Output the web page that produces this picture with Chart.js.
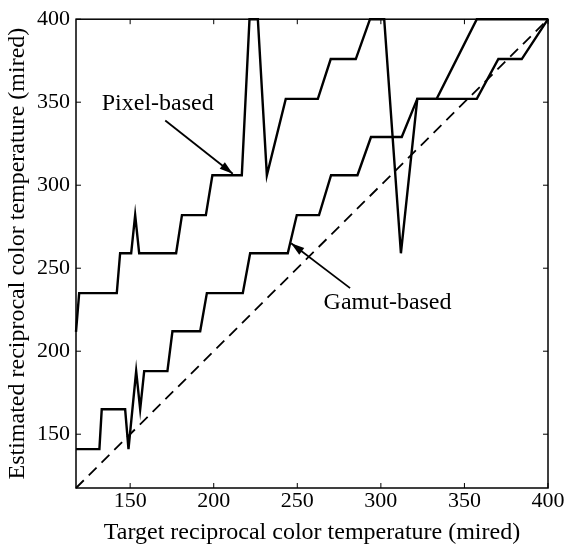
<!DOCTYPE html>
<html>
<head>
<meta charset="utf-8">
<script src="https://cdn.jsdelivr.net/npm/chart.js@4"></script>
<style>
  body { margin: 0; background: #fff; }
</style>
</head>
<body>
<canvas id="miredChart" width="571" height="547"></canvas>
<script>
// reciprocal colour temperature, mired
var pixelX = [117.6, 119.5, 142, 144, 150.6, 153, 155.4, 177.5, 181, 195.3, 199.2, 216.8, 221.4, 226.4, 231.8, 243.1, 262.3, 270, 285, 293.5, 302, 312, 321.8, 333.4, 357.4, 400];
var pixelY = [211.7, 235, 235, 259, 259, 282, 259, 259, 282, 282, 306, 306, 400, 400, 306, 352, 352, 376, 376, 400, 400, 259, 352, 352, 400, 400];

var gamutX = [117.6, 131.6, 133, 147, 149, 153.6, 156, 158.4, 172.3, 175.3, 191.9, 195.9, 217.4, 221.8, 244.3, 249.7, 263, 270.2, 286, 294.1, 312.5, 321.8, 357.4, 370.3, 384.3, 400];
var gamutY = [141, 141, 165, 165, 141, 188, 165, 188, 188, 212, 212, 235, 235, 259, 259, 282, 282, 306, 306, 329, 329, 352, 352, 376, 376, 400];

var idealX = [117.6, 400];
var idealY = [117.6, 400];

var tickValues = [150, 200, 250, 300, 350, 400];
var axisMin = 117.6;
var axisMax = 400;

var labels = [
  { text: 'Pixel-based', x: 166.5, y: 349, fromX: 171, fromY: 339, toX: 211.4, toY: 306.9 },
  { text: 'Gamut-based', x: 304, y: 229.5, fromX: 281.6, fromY: 238, toX: 246.3, toY: 265 }
];

function toPoints(xs, ys) {
  return xs.map(function (x, i) { return { x: x, y: ys[i] }; });
}

var serif = "'Liberation Serif', 'DejaVu Serif', serif";

var frame = {
  id: 'frame',
  afterDatasetsDraw: function (chart) {
    var ctx = chart.ctx;
    var a = chart.chartArea;
    var xs = chart.scales.x, ys = chart.scales.y;
    ctx.save();
    ctx.strokeStyle = '#000';
    ctx.lineWidth = 1.5;
    ctx.strokeRect(a.left, a.top, a.right - a.left, a.bottom - a.top);
    // inward ticks on all four sides
    ctx.lineWidth = 1;
    tickValues.forEach(function (v) {
      var px = xs.getPixelForValue(v), py = ys.getPixelForValue(v);
      ctx.beginPath();
      ctx.moveTo(px, a.bottom); ctx.lineTo(px, a.bottom - 5);
      ctx.moveTo(px, a.top); ctx.lineTo(px, a.top + 5);
      ctx.moveTo(a.left, py); ctx.lineTo(a.left + 5, py);
      ctx.moveTo(a.right, py); ctx.lineTo(a.right - 5, py);
      ctx.stroke();
    });

    // annotations with arrows
    ctx.fillStyle = '#000';
    ctx.font = '24px ' + serif;
    ctx.textAlign = 'center';
    ctx.textBaseline = 'middle';
    labels.forEach(function (l) {
      ctx.fillText(l.text, xs.getPixelForValue(l.x), ys.getPixelForValue(l.y));
      var x1 = xs.getPixelForValue(l.fromX), y1 = ys.getPixelForValue(l.fromY);
      var x2 = xs.getPixelForValue(l.toX), y2 = ys.getPixelForValue(l.toY);
      ctx.lineWidth = 1.8;
      ctx.beginPath();
      ctx.moveTo(x1, y1); ctx.lineTo(x2, y2);
      ctx.stroke();
      var ang = Math.atan2(y2 - y1, x2 - x1);
      ctx.beginPath();
      ctx.moveTo(x2, y2);
      ctx.lineTo(x2 - 14 * Math.cos(ang - 0.3), y2 - 14 * Math.sin(ang - 0.3));
      ctx.lineTo(x2 - 14 * Math.cos(ang + 0.3), y2 - 14 * Math.sin(ang + 0.3));
      ctx.closePath();
      ctx.fill();
    });
    ctx.restore();
  }
};

new Chart(document.getElementById('miredChart').getContext('2d'), {
  type: 'line',
  data: {
    datasets: [{
      label: 'Pixel-based',
      data: toPoints(pixelX, pixelY),
      borderColor: '#000',
      borderWidth: 2.4,
      pointRadius: 0,
      tension: 0
    }, {
      label: 'Gamut-based',
      data: toPoints(gamutX, gamutY),
      borderColor: '#000',
      borderWidth: 2.4,
      pointRadius: 0,
      tension: 0
    }, {
      label: 'Ideal',
      data: toPoints(idealX, idealY),
      borderColor: '#000',
      borderWidth: 1.8,
      borderDash: [11, 7],
      pointRadius: 0
    }]
  },
  options: {
    responsive: false,
    animation: false,
    clip: false,
    layout: { padding: { top: 16, right: 23, left: 0, bottom: 0 } },
    plugins: { legend: { display: false }, tooltip: { enabled: false } },
    scales: {
      x: {
        type: 'linear',
        min: axisMin,
        max: axisMax,
        afterBuildTicks: function (s) { s.ticks = tickValues.map(function (v) { return { value: v }; }); },
        afterFit: function (s) { s.height = 59; },
        grid: { display: false, drawTicks: false },
        border: { display: false },
        ticks: { color: '#000', padding: 0, maxRotation: 0, font: { family: serif, size: 22 } },
        title: { display: true, text: 'Target reciprocal color temperature (mired)', color: '#000', padding: { top: 5, bottom: 0 }, font: { family: serif, size: 24 } }
      },
      y: {
        type: 'linear',
        min: axisMin,
        max: axisMax,
        afterBuildTicks: function (s) { s.ticks = tickValues.map(function (v) { return { value: v }; }); },
        afterFit: function (s) { s.width = 76; },
        grid: { display: false, drawTicks: false },
        border: { display: false },
        ticks: { color: '#000', padding: 6, font: { family: serif, size: 22 } },
        title: { display: true, text: 'Estimated reciprocal color temperature (mired)', color: '#000', padding: { top: 3, bottom: 0 }, font: { family: serif, size: 24 } }
      }
    }
  },
  plugins: [frame]
});
</script>
</body>
</html>
